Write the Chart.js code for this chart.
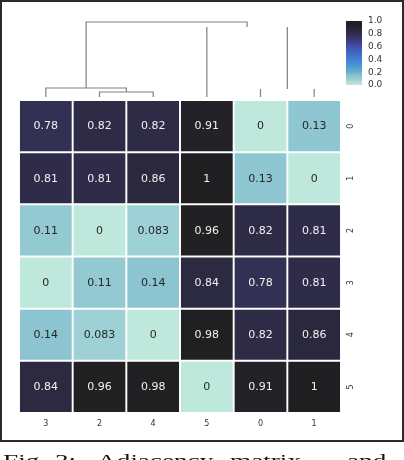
<!DOCTYPE html>
<html>
<head>
<meta charset="utf-8">
<script src="https://cdn.jsdelivr.net/npm/chart.js@4.4.0/dist/chart.umd.min.js"></script>
<style>
  body { margin: 0; background: #fff; width: 404px; height: 460px; overflow: hidden; position: relative; }
  #wrap { position: absolute; left: 0; top: 0; width: 404px; height: 442px; }
  #frame { position: absolute; left: 0; top: 0; width: 404px; height: 442px; box-sizing: border-box;
           border: 2px solid #2b2b2b; pointer-events: none; }
  .cap { position: absolute; top: 452px; font: 17px "Liberation Serif", serif; line-height: 17px;
         color: #111; white-space: nowrap; transform: scaleX(1.6); transform-origin: left top; }
</style>
</head>
<body>
<div id="wrap"><canvas id="heat"></canvas></div>
<div id="frame"></div>
<span class="cap" style="left:3px">Fig.</span>
<span class="cap" style="left:55px">3:</span>
<span class="cap" style="left:97px">Adjacency</span>
<span class="cap" style="left:230px">matrix</span>
<span class="cap" style="left:347px">and</span>

<script>
// column order after clustering, and row names
var colLabels = ['3', '2', '4', '5', '0', '1'];
var rowLabels = ['0', '1', '2', '3', '4', '5'];

// cell values, one array per row (columns in colLabels order)
var row0 = [0.78, 0.82, 0.82, 0.91, 0, 0.13];
var row1 = [0.81, 0.81, 0.86, 1, 0.13, 0];
var row2 = [0.11, 0, 0.083, 0.96, 0.82, 0.81];
var row3 = [0, 0.11, 0.14, 0.84, 0.78, 0.81];
var row4 = [0.14, 0.083, 0, 0.98, 0.82, 0.86];
var row5 = [0.84, 0.96, 0.98, 0, 0.91, 1];
var matrix = [row0, row1, row2, row3, row4, row5];

// colorbar ticks
var cbTicks = [0, 0.2, 0.4, 0.6, 0.8, 1.0];

// column dendrogram: leaves are column positions 0-5, merge k gets id 6+k
var linkLeft = [1, 0, 4, 3, 7];
var linkRight = [2, 6, 5, 8, 9];
var linkHeight = [0.067, 0.12, 0.107, 0.933, 1.0];
// merges whose crossbar doesn't show up in the picture
var hiddenBars = [2, 3];

// colormap (light mint -> blue -> purple -> near black)
var cmap = [
  [0.0, [191, 232, 220]], [0.1, [150, 204, 211]], [0.15, [137, 195, 208]],
  [0.2, [107, 176, 207]], [0.3, [75, 152, 212]], [0.4, [62, 128, 208]],
  [0.5, [64, 106, 196]], [0.6, [72, 76, 170]], [0.7, [60, 58, 126]],
  [0.78, [51, 49, 83]], [0.82, [45, 43, 70]], [0.86, [41, 40, 60]],
  [0.91, [35, 34, 41]], [0.96, [33, 33, 36]], [1.0, [31, 31, 33]]
];
function colorFor(v) {
  for (var i = 1; i < cmap.length; i++) {
    if (v <= cmap[i][0]) {
      var a = cmap[i - 1], b = cmap[i];
      var t = (v - a[0]) / (b[0] - a[0]);
      var c = a[1].map(function (x, k) { return Math.round(x + (b[1][k] - x) * t); });
      return 'rgb(' + c.join(',') + ')';
    }
  }
  return 'rgb(' + cmap[cmap.length - 1][1].join(',') + ')';
}

var extras = {
  id: 'extras',
  afterDatasetsDraw: function (chart) {
    var ctx = chart.ctx;
    ctx.save();
    // cell annotations
    ctx.font = '11px "DejaVu Sans"';
    ctx.textAlign = 'center';
    ctx.textBaseline = 'middle';
    matrix.forEach(function (row, r) {
      chart.getDatasetMeta(r).data.forEach(function (bar, c) {
        var v = row[c];
        ctx.fillStyle = v > 0.5 ? '#f2f2f2' : '#262626';
        ctx.fillText(String(v), bar.x, (bar.y + bar.base) / 2 + 0.5);
      });
    });

    // dendrogram
    var xs = chart.scales.x;
    var base = chart.chartArea.top - 3;
    var hy = function (h) { return base - h * 75; };
    var nodeX = [], nodeH = [];
    colLabels.forEach(function (l, i) { nodeX[i] = xs.getPixelForValue(i); nodeH[i] = 0; });
    ctx.strokeStyle = '#808080';
    ctx.lineWidth = 1.2;
    linkHeight.forEach(function (h, k) {
      var a = linkLeft[k], b = linkRight[k], y = hy(h);
      ctx.beginPath();
      ctx.moveTo(nodeX[a], hy(nodeH[a]));
      ctx.lineTo(nodeX[a], y);
      if (hiddenBars.indexOf(k) < 0) ctx.lineTo(nodeX[b], y);
      else ctx.moveTo(nodeX[b], y);
      ctx.lineTo(nodeX[b], hy(nodeH[b]));
      ctx.stroke();
      nodeX[6 + k] = (nodeX[a] + nodeX[b]) / 2;
      nodeH[6 + k] = h;
    });

    // colorbar
    var cx = 346, cy0 = 21, cw = 16, ch = 64;
    var g = ctx.createLinearGradient(0, cy0 + ch, 0, cy0);
    cmap.forEach(function (s) { g.addColorStop(s[0], 'rgb(' + s[1].join(',') + ')'); });
    ctx.fillStyle = g;
    ctx.fillRect(cx, cy0, cw, ch);
    ctx.fillStyle = '#333';
    ctx.font = '9px "DejaVu Sans"';
    ctx.textAlign = 'left';
    cbTicks.forEach(function (t) {
      ctx.fillText(t.toFixed(1), cx + cw + 6, cy0 + ch - t * ch);
    });
    ctx.restore();
  }
};

var datasets = matrix.map(function (row, r) {
  return {
    label: rowLabels[r],
    data: row.map(function () { return 1; }),
    backgroundColor: row.map(colorFor),
    borderColor: '#ffffff',
    borderWidth: 1.3,
    borderSkipped: false,
    barPercentage: 1,
    categoryPercentage: 1
  };
});

new Chart(document.getElementById('heat'), {
  type: 'bar',
  data: { labels: colLabels, datasets: datasets },
  options: {
    responsive: true,
    maintainAspectRatio: false,
    animation: false,
    events: [],
    layout: { padding: { left: 19, top: 100, right: 41, bottom: 0 } },
    plugins: { legend: { display: false }, tooltip: { enabled: false } },
    scales: {
      x: {
        stacked: true,
        grid: { display: false, drawTicks: false },
        border: { display: false },
        ticks: { color: '#333', font: { family: 'DejaVu Sans', size: 8 }, padding: 6 },
        afterFit: function (s) { s.height = 29; }
      },
      y: {
        stacked: true, reverse: true, min: 0, max: 6, display: false
      },
      y2: {
        type: 'category',
        labels: rowLabels,
        position: 'right',
        offset: true,
        grid: { display: false, drawTicks: false },
        border: { display: false },
        ticks: {
          color: '#333', font: { family: 'DejaVu Sans', size: 8 },
          minRotation: 90, maxRotation: 90, crossAlign: 'center', padding: 7
        },
        afterFit: function (s) { s.width = 22; }
      }
    }
  },
  plugins: [extras]
});
</script>
</body>
</html>
